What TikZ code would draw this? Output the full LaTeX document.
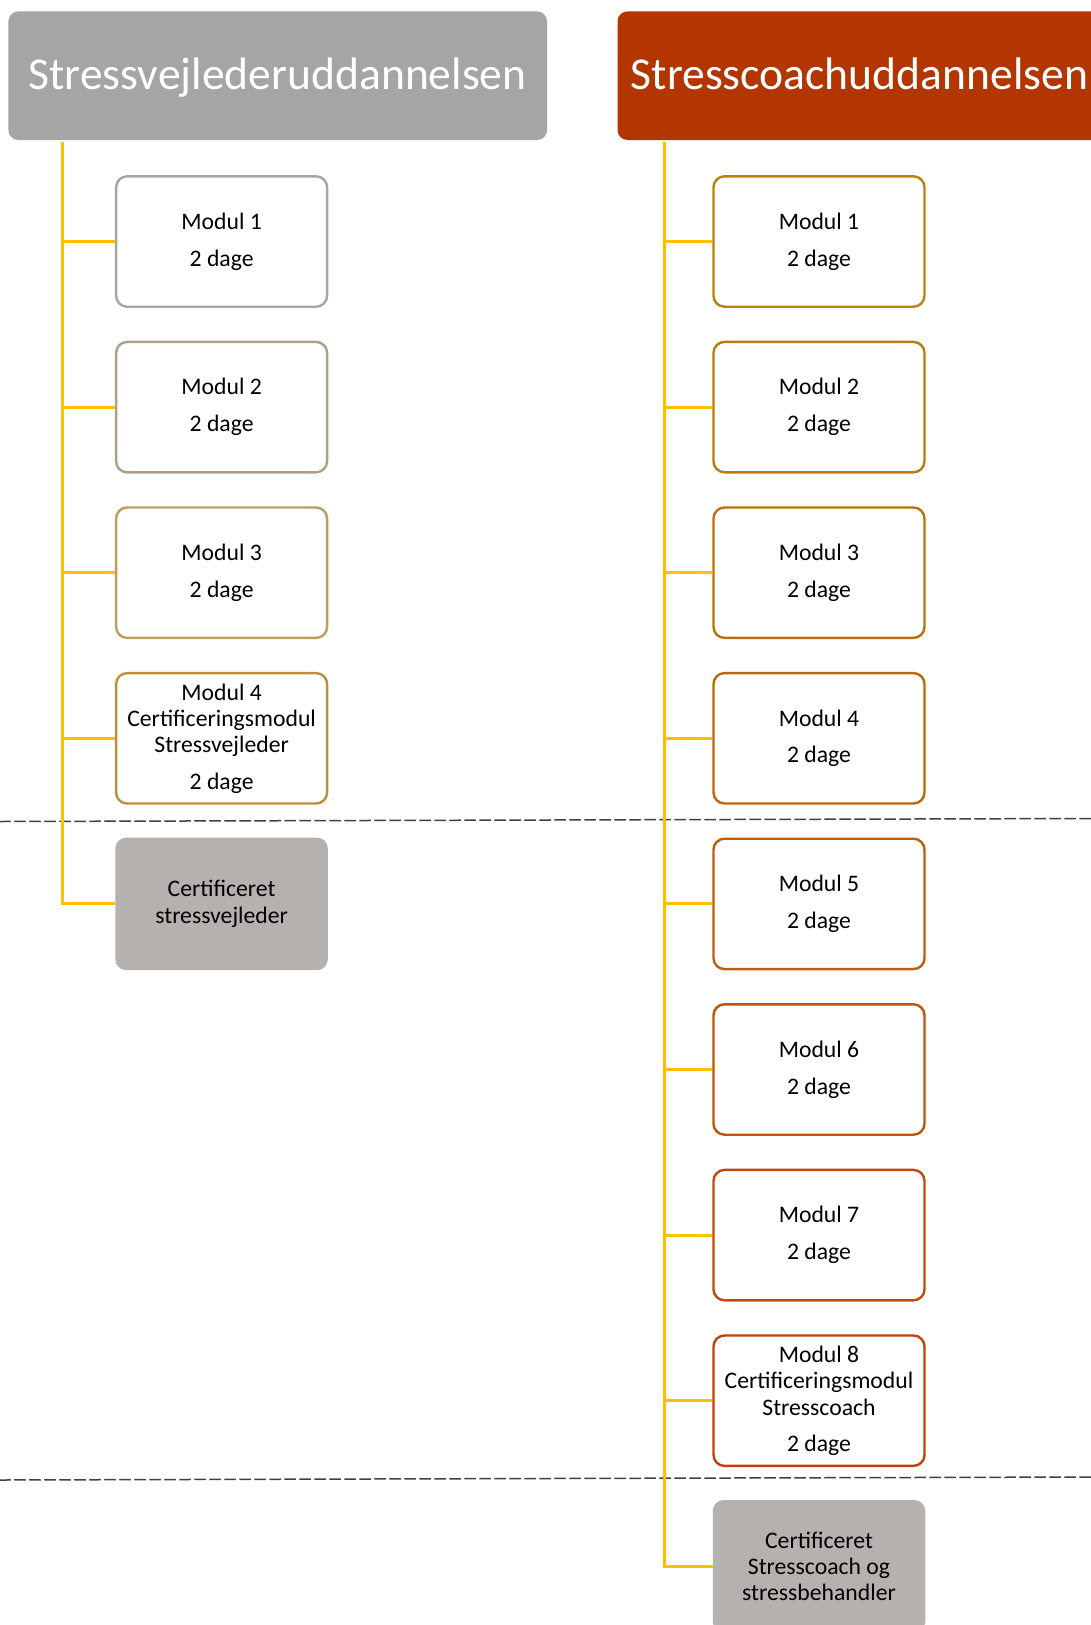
\documentclass[tikz,border=0pt]{standalone}
\usepackage{fontspec}
\setmainfont{Carlito}
\usepackage{tikz}

\begin{document}
\begin{tikzpicture}[x=1pt,y=-1pt,line cap=rect,
	hdrbox/.style={rounded corners=10pt, inner sep=0, minimum height=128.6pt, text height=30pt, text depth=3pt, text=white, font=\fontsize{45.6pt}{50pt}\selectfont},
	modbox/.style={draw, fill=white, line width=2.4pt, rounded corners=11pt, inner sep=0, minimum width=211pt, minimum height=130.4pt, align=center, font=\fontsize{23.7pt}{26.4pt}\selectfont},
	certbox/.style={fill=custcol_b5_b1_af, rounded corners=11pt, inner sep=0, minimum width=212.5pt, minimum height=132.6pt, align=center, font=\fontsize{23.7pt}{26.4pt}\selectfont},
	branch/.style={line width=3.0pt, custcol_ff_c0_0, line cap=butt},
	sepline/.style={line width=1.5pt, custcol_40_40_40, dash pattern=on 10pt off 5pt}]
					\definecolor{custcol_a5_a5_a5}{RGB}{165, 165, 165}
					\definecolor{custcol_b3_35_0}{RGB}{179, 53, 0}
					\definecolor{custcol_ff_c0_0}{RGB}{255, 192, 0}
					\definecolor{custcol_b5_b1_af}{RGB}{181, 177, 175}
					\definecolor{custcol_40_40_40}{RGB}{64, 64, 64}
					\definecolor{custcol_a6_a6_a6}{RGB}{166, 166, 166}
					\definecolor{custcol_ad_a0_85}{RGB}{173, 160, 133}
					\definecolor{custcol_bc_9e_5d}{RGB}{188, 158, 93}
					\definecolor{custcol_b8_91_3a}{RGB}{184, 145, 58}
					\definecolor{custcol_b8_84_e}{RGB}{184, 132, 14}
					\definecolor{custcol_b9_7b_d}{RGB}{185, 123, 13}
					\definecolor{custcol_ba_71_d}{RGB}{186, 113, 13}
					\definecolor{custcol_bb_68_c}{RGB}{187, 104, 12}
					\definecolor{custcol_bc_5e_c}{RGB}{188, 94, 12}
					\definecolor{custcol_bd_55_b}{RGB}{189, 85, 11}
					\definecolor{custcol_be_4b_b}{RGB}{190, 75, 11}
					\definecolor{custcol_bf_42_a}{RGB}{191, 66, 10}
					\useasboundingbox (0.0,0.0) rectangle (1091.0,1625.0);
					\clip (0.0,0.0) rectangle (1091.0,1625.0);
					% headers
					\node[hdrbox, fill=custcol_a5_a5_a5, minimum width=538.7pt] (hdrA) at (277.7,75.7) {Stressvejlederuddannelsen};
					\node[hdrbox, fill=custcol_b3_35_0, minimum width=484.0pt] (hdrB) at (859.5,75.7) {Stresscoachuddannelsen};
					% separator lines
					\coordinate (sepAw) at (0.0,821.5);
					\coordinate (sepAe) at (1091.0,818.5);
					\coordinate (sepBw) at (0.0,1480.0);
					\coordinate (sepBe) at (1091.0,1477.0);
					\draw [sepline] (sepAw) -- (sepAe);
					\draw [sepline] (sepBw) -- (sepBe);
					% left column
					\node[modbox, draw=custcol_a6_a6_a6] (a1) at (221.6,241.5) {Modul 1\\[10.5pt]2 dage};
					\node[modbox, draw=custcol_ad_a0_85] (a2) at (221.6,407.1) {Modul 2\\[10.5pt]2 dage};
					\node[modbox, draw=custcol_bc_9e_5d] (a3) at (221.6,572.7) {Modul 3\\[10.5pt]2 dage};
					\node[modbox, draw=custcol_b8_91_3a] (a4) at (221.6,738.3) {Modul 4\\Certificeringsmodul\\Stressvejleder\\[9.8pt]2 dage};
					\node[certbox] (acert) at (221.6,903.9) {Certificeret\\stressvejleder};
					% right column
					\node[modbox, draw=custcol_b8_84_e] (b1) at (819.0,241.5) {Modul 1\\[10.5pt]2 dage};
					\node[modbox, draw=custcol_b9_7b_d] (b2) at (819.0,407.1) {Modul 2\\[10.5pt]2 dage};
					\node[modbox, draw=custcol_ba_71_d] (b3) at (819.0,572.7) {Modul 3\\[10.5pt]2 dage};
					\node[modbox, draw=custcol_bb_68_c] (b4) at (819.0,738.3) {Modul 4\\[10.5pt]2 dage};
					\node[modbox, draw=custcol_bc_5e_c] (b5) at (819.0,903.9) {Modul 5\\[10.5pt]2 dage};
					\node[modbox, draw=custcol_bd_55_b] (b6) at (819.0,1069.5) {Modul 6\\[10.5pt]2 dage};
					\node[modbox, draw=custcol_be_4b_b] (b7) at (819.0,1235.1) {Modul 7\\[10.5pt]2 dage};
					\node[modbox, draw=custcol_bf_42_a] (b8) at (819.0,1400.7) {Modul 8\\Certificeringsmodul\\Stresscoach\\[9.8pt]2 dage};
					\node[certbox] (bcert) at (819.0,1566.3) {Certificeret\\Stresscoach og\\stressbehandler};
					% trunks and branches
					\coordinate (trunkA) at (62.2,142.0);
					\coordinate (trunkB) at (664.1,142.0);
					\draw [branch] (trunkA) |- (acert.west);
					\draw [branch] (trunkA |- a1.west) -- (a1.west);
					\draw [branch] (trunkA |- a2.west) -- (a2.west);
					\draw [branch] (trunkA |- a3.west) -- (a3.west);
					\draw [branch] (trunkA |- a4.west) -- (a4.west);
					\draw [branch] (trunkB) |- (bcert.west);
					\draw [branch] (trunkB |- b1.west) -- (b1.west);
					\draw [branch] (trunkB |- b2.west) -- (b2.west);
					\draw [branch] (trunkB |- b3.west) -- (b3.west);
					\draw [branch] (trunkB |- b4.west) -- (b4.west);
					\draw [branch] (trunkB |- b5.west) -- (b5.west);
					\draw [branch] (trunkB |- b6.west) -- (b6.west);
					\draw [branch] (trunkB |- b7.west) -- (b7.west);
					\draw [branch] (trunkB |- b8.west) -- (b8.west);
				\end{tikzpicture}
\end{document}
